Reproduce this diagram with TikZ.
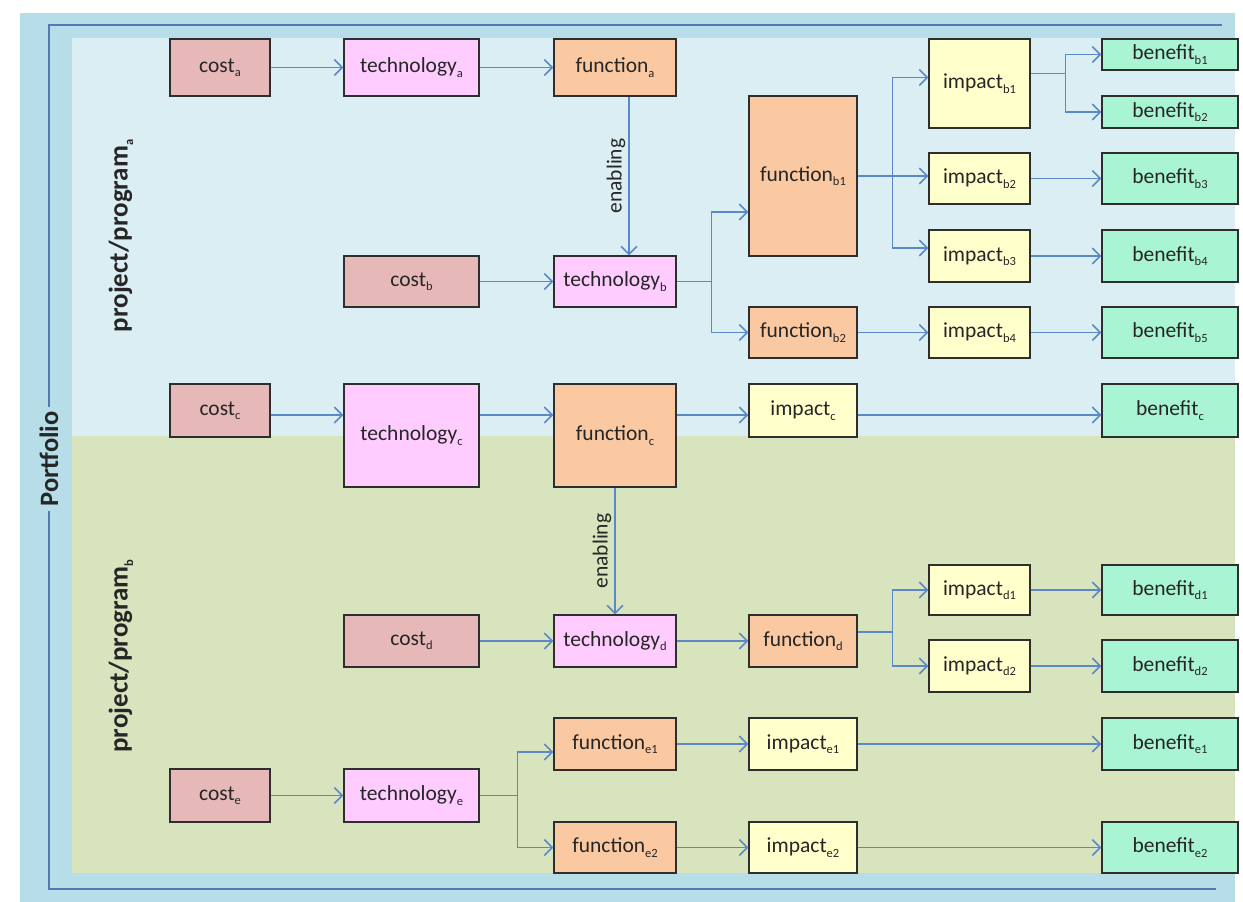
\documentclass[tikz,border=0pt]{standalone}
\usepackage{fontspec}
\setmainfont{Carlito}
\usetikzlibrary{arrows.meta,calc}
\definecolor{outerblue}{HTML}{B7DEE8}
\definecolor{regA}{HTML}{DBEEF4}
\definecolor{regB}{HTML}{D7E4BD}
\definecolor{costc}{HTML}{E6B9B8}
\definecolor{techc}{HTML}{FFCCFF}
\definecolor{funcc}{HTML}{FAC9A2}
\definecolor{impc}{HTML}{FFFFCC}
\definecolor{benc}{HTML}{A9F5D3}
\definecolor{arrc}{HTML}{5B88C6}
\definecolor{boxline}{HTML}{2E2E2E}
\definecolor{txt}{HTML}{262626}
\newcommand{\sbs}[1]{\raisebox{-0.2em}{\fontsize{12.5}{12.5}\selectfont #1}}
\begin{document}
\begin{tikzpicture}[x=1pt,y=-1pt,
  box/.style={draw=boxline, line width=1.3pt, inner sep=0pt, text=txt,
    font=\fontsize{21.5}{23}\selectfont},
  costbox/.style={box, fill=costc, minimum width=100pt},
  techbox/.style={box, fill=techc, minimum width=135pt},
  funcbox/.style={box, fill=funcc, minimum width=122pt},
  funcboxb/.style={box, fill=funcc, minimum width=108pt},
  impbox/.style={box, fill=impc, minimum width=101pt},
  impboxc/.style={box, fill=impc, minimum width=108pt},
  benbox/.style={box, fill=benc, minimum width=136pt},
  costboxw/.style={box, fill=costc, minimum width=135pt},
  arr/.style={draw=arrc, line width=1.5pt, -{Straight Barb[length=8pt,width=16pt]}},
  pline/.style={draw=arrc!90!black, line width=1.5pt},
  vlabel/.style={text=txt, font=\fontsize{27}{30}\selectfont\bfseries, rotate=90},
  enab/.style={text=txt, font=\fontsize{21.5}{23}\selectfont, rotate=90, anchor=south, inner sep=3pt}
]
\useasboundingbox (0,0) rectangle (1243,902);
\fill[white] (0,0) rectangle (1243,902);
% regions
\fill[outerblue] (20,13) rectangle (1235,902);
\fill[regA] (72,38) rectangle (1235,436);
\fill[regB] (72,436) rectangle (1235,873);

% portfolio frame
\node[text=txt, font=\fontsize{26.5}{28}\selectfont\bfseries, rotate=90, inner sep=4pt] (port) at (49,459) {Portfolio};
\coordinate (ptr) at (1222,25);
\coordinate (ptl) at (49,25);
\coordinate (pbl) at (49,889);
\coordinate (pbr) at (1216,889);
\draw[pline] (ptr) -- (ptl) -- (port.east);
\draw[pline] (port.west) -- (pbl) -- (pbr);

% program labels
\node[vlabel] (pa) at (121,236) {project/program\sbs{a}};
\node[vlabel] (pb) at (121,656) {project/program\sbs{b}};

% row a / b
\node[costbox, minimum height=57pt] (ca) at (220,67.5) {cost\sbs{a}};
\node[techbox, minimum height=57pt] (ta) at (411.5,67.5) {technology\sbs{a}};
\node[funcbox, minimum height=57pt] (fa) at (615,67.5) {function\sbs{a}};
\node[costboxw, minimum height=51pt] (cb) at (411.5,281.5) {cost\sbs{b}};
\node[techbox, minimum width=122pt, minimum height=51pt] (tb) at (615,281.5) {technology\sbs{b}};
\node[funcboxb, minimum height=160pt] (fb1) at (803,176) {function\sbs{b1}};
\node[funcboxb, minimum height=51pt] (fb2) at (803,332.5) {function\sbs{b2}};
\node[impbox, minimum height=89pt] (ib1) at (979.5,83.5) {impact\sbs{b1}};
\node[impbox, minimum height=51pt] (ib2) at (979.5,178.5) {impact\sbs{b2}};
\node[impbox, minimum height=52pt] (ib3) at (979.5,256) {impact\sbs{b3}};
\node[impbox, minimum height=51pt] (ib4) at (979.5,332.5) {impact\sbs{b4}};
\node[benbox, minimum height=31pt] (bb1) at (1170,54.5) {benefit\sbs{b1}};
\node[benbox, minimum height=32pt] (bb2) at (1170,112) {benefit\sbs{b2}};
\node[benbox, minimum height=51pt] (bb3) at (1170,178.5) {benefit\sbs{b3}};
\node[benbox, minimum height=52pt] (bb4) at (1170,256) {benefit\sbs{b4}};
\node[benbox, minimum height=51pt] (bb5) at (1170,332.5) {benefit\sbs{b5}};

% row c
\node[costbox, minimum height=53pt] (cc) at (220,410.5) {cost\sbs{c}};
\node[techbox, minimum height=103pt] (tc) at (411.5,435.5) {technology\sbs{c}};
\node[funcbox, minimum height=103pt] (fc) at (615,435.5) {function\sbs{c}};
\node[impboxc, minimum height=53pt] (ic) at (803,410.5) {impact\sbs{c}};
\node[benbox, minimum height=53pt] (bc) at (1170,410.5) {benefit\sbs{c}};

% row d
\node[costboxw, minimum height=52pt] (cd) at (411.5,641) {cost\sbs{d}};
\node[techbox, minimum width=122pt, minimum height=52pt] (td) at (615,641) {technology\sbs{d}};
\node[funcboxb, minimum height=52pt] (fd) at (803,641) {function\sbs{d}};
\node[impbox, minimum height=50pt] (id1) at (979.5,590) {impact\sbs{d1}};
\node[impbox, minimum height=52pt] (id2) at (979.5,666) {impact\sbs{d2}};
\node[benbox, minimum height=50pt] (bd1) at (1170,590) {benefit\sbs{d1}};
\node[benbox, minimum height=52pt] (bd2) at (1170,666) {benefit\sbs{d2}};

% row e
\node[funcbox, minimum height=52pt] (fe1) at (615,744) {function\sbs{e1}};
\node[impboxc, minimum height=52pt] (ie1) at (803,744) {impact\sbs{e1}};
\node[benbox, minimum height=52pt] (be1) at (1170,744) {benefit\sbs{e1}};
\node[costbox, minimum height=53pt] (ce) at (220,795.5) {cost\sbs{e}};
\node[techbox, minimum height=53pt] (te) at (411.5,795.5) {technology\sbs{e}};
\node[funcbox, minimum height=51pt] (fe2) at (615,847.5) {function\sbs{e2}};
\node[impboxc, minimum height=51pt] (ie2) at (803,847.5) {impact\sbs{e2}};
\node[benbox, minimum height=51pt] (be2) at (1170,847.5) {benefit\sbs{e2}};

% connectors a/b
\draw[arr] (ca) -- (ta);
\draw[arr] (ta) -- (fa);
\draw[arr] ([xshift=14pt]fa.south) -- ([xshift=14pt]tb.north) node[midway, enab] {enabling};
\draw[arr] (cb) -- (tb);
\draw[arr] (tb.east) -- ++(35,0) |- ([yshift=-36pt]fb1.west);
\draw[arr] (tb.east) -- ++(35,0) |- (fb2.west);
\draw[arr] (fb1.east) -- ++(35,0) |- ([yshift=6pt]ib1.west);
\draw[arr] (fb1.east) -- (fb1.east -| ib2.west);
\draw[arr] (fb1.east) -- ++(35,0) |- ([yshift=8pt]ib3.west);
\draw[arr] ([yshift=10pt]ib1.east) -- ++(35,0) |- (bb1.west);
\draw[arr] ([yshift=10pt]ib1.east) -- ++(35,0) |- (bb2.west);
\draw[arr] (ib2) -- (bb3);
\draw[arr] (ib3) -- (bb4);
\draw[arr] (fb2) -- (ib4);
\draw[arr] (ib4) -- (bb5);

% connectors c
\coordinate (rc) at (0,415);
\draw[arr] (cc.east |- rc) -- (tc.west |- rc);
\draw[arr] (tc.east |- rc) -- (fc.west |- rc);
\draw[arr] (fc.east |- rc) -- (ic.west |- rc);
\draw[arr] (ic.east |- rc) -- (bc.west |- rc);
\draw[arr] (fc.south) -- (td.north) node[midway, enab] {enabling};

% connectors d
\draw[arr] (cd) -- (td);
\draw[arr] (td) -- (fd);
\draw[arr] ([yshift=9pt]fd.east) -- ++(35,0) |- (id1.west);
\draw[arr] ([yshift=9pt]fd.east) -- ++(35,0) |- (id2.west);
\draw[arr] (id1) -- (bd1);
\draw[arr] (id2) -- (bd2);

% connectors e
\draw[arr] (ce) -- (te);
\draw[arr] (te.east) -- ++(38,0) |- ([yshift=-8pt]fe1.west);
\draw[arr] (te.east) -- ++(38,0) |- (fe2.west);
\draw[arr] (fe1) -- (ie1);
\draw[arr] (ie1) -- (be1);
\draw[arr] (fe2) -- (ie2);
\draw[arr] (ie2) -- (be2);
\end{tikzpicture}
\end{document}
